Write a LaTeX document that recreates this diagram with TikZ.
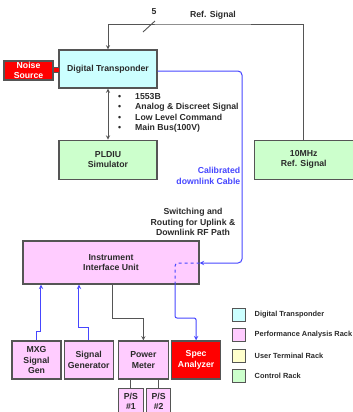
\documentclass[tikz,border=0pt]{standalone}
\usepackage{fontspec}
\setmainfont{Liberation Sans}
\usepackage{tikz}
\usepackage{xcolor}
\usetikzlibrary{positioning}

\definecolor{dtcyan}{HTML}{CCFFFF}
\definecolor{parpink}{HTML}{FFCCFF}
\definecolor{utyellow}{HTML}{FFFFCC}
\definecolor{crgreen}{HTML}{CCFFCC}
\definecolor{sigred}{HTML}{FF0000}
\definecolor{cableblue}{HTML}{4646FF}
\definecolor{boxgray}{HTML}{555555}
\definecolor{textgray}{HTML}{2A2A2A}

\begin{document}
\begin{tikzpicture}[
    x=1bp, y=-1bp,
    font=\fontsize{8.7bp}{10.3bp}\selectfont\bfseries,
    box/.style={draw=boxgray, line width=1.2bp, rectangle, align=center, text=textgray, inner sep=0pt},
    redbox/.style={box, fill=sigred, text=white},
    wire/.style={draw=boxgray, line width=0.9bp},
    arrow/.style={wire, ->, >=stealth},
    dblarrow/.style={wire, <->, >=stealth},
    cable/.style={draw=cableblue, line width=1bp},
    cablearrow/.style={cable, -{stealth}},
    legbox/.style={draw=boxgray, line width=1bp, minimum width=13bp, minimum height=13bp, inner sep=0pt},
    legtext/.style={font=\fontsize{7.4bp}{9bp}\selectfont\bfseries, text=textgray, inner sep=0pt, anchor=west}
]
    \useasboundingbox (0,0) rectangle (353,412);

    % Place nodes
    \node[box, fill=dtcyan, minimum width=98bp, minimum height=38bp] (dt) at (108,69) {Digital Transponder};
    \node[redbox, minimum width=49bp, minimum height=19bp] (noise) at (28.5,70.5) {Noise\\[-1bp]Source};
    \node[box, fill=sigred, line width=0.8bp, minimum width=6bp, minimum height=5bp] (conn) at (56,69.5) {};
    \node[box, fill=crgreen, minimum width=98bp, minimum height=39bp, below=51bp of dt] (pldiu) {PLDIU\\Simulator};
    \node[box, fill=crgreen, minimum width=99bp, minimum height=39bp, right=96bp of pldiu] (tenmhz) {10MHz\\Ref. Signal};
    \node[box, fill=parpink, minimum width=176bp, minimum height=43bp] (iiu) at (111,262.5) {Instrument\\Interface Unit};

    \node[box, fill=parpink, minimum width=49bp, minimum height=38bp] (mxg) at (36.5,360) {MXG\\Signal\\Gen};
    \node[box, fill=parpink, minimum width=49bp, minimum height=38bp, right=2bp of mxg] (siggen) {Signal\\Generator};
    \node[box, fill=parpink, minimum width=50bp, minimum height=38bp, right=4bp of siggen] (pm) {Power\\Meter};
    \node[redbox, minimum width=49bp, minimum height=38bp, right=2bp of pm] (spec) {Spec\\Analyzer};
    \node[box, fill=parpink, minimum width=25bp, minimum height=26bp, anchor=north west] (ps1) at ([yshift=-8bp]pm.south west) {P/S\\\#1};
    \node[box, fill=parpink, minimum width=24bp, minimum height=26bp, right=2bp of ps1] (ps2) {P/S\\\#2};

    % Labels
    \node[text=textgray, inner sep=0pt] (reflabel) at (213,15) {Ref. Signal};
    \node[text=textgray, inner sep=0pt] (lanes) at (154,12) {5};
    \node[text=textgray, inner sep=0pt, align=left, anchor=west] (buslist) at (118,113)
        {\makebox[17bp][l]{\textbullet}1553B\\
         \makebox[17bp][l]{\textbullet}Analog \& Discreet Signal\\
         \makebox[17bp][l]{\textbullet}Low Level Command\\
         \makebox[17bp][l]{\textbullet}Main Bus(100V)};
    \node[text=cableblue, inner sep=0pt, align=right, anchor=east] (cablelabel) at (240.5,176) {Calibrated\\downlink Cable};
    \node[text=textgray, inner sep=0pt, align=center] (switchlabel) at (193,222) {Switching and\\Routing for Uplink \&\\Downlink RF Path};

    % Add connections
    \coordinate (reftop) at (200,24);
    \draw[arrow] (tenmhz.north) |- (reftop) -| (dt.north);
    \draw[wire] (143,32) -- (155,21);
    \draw[dblarrow] (dt) -- (pldiu);

    \coordinate (cablebend) at (242,263);
    \coordinate (sw) at (175,263);
    \coordinate (jog) at (0,318);
    \draw[cablearrow, rounded corners=4bp] ([yshift=-2bp]dt.east) -| (cablebend) -- (iiu.east |- cablebend);
    \draw[cable, dashed, rounded corners=3bp] (iiu.east |- sw) -- (sw) -- (sw |- iiu.south);
    \draw[cablearrow, rounded corners=2bp] (sw |- iiu.south) -- (sw |- jog) -| (spec.north);

    \draw[cablearrow] (mxg.north) -- ++(0,-9) -| ([xshift=-70bp]iiu.south);
    \draw[cablearrow] (siggen.north) -- ++(0,-13) -| ([xshift=-32bp]iiu.south);
    \draw[arrow] ([xshift=1bp]iiu.south) -- ([xshift=1bp]iiu.south |- jog) -| (pm.north);
    \draw[wire] (ps1.north) -- (ps1.north |- pm.south);
    \draw[wire] (ps2.north) -- (ps2.north |- pm.south);

    % Legend
    \foreach \col/\txt/\y in {dtcyan/Digital Transponder/315, parpink/Performance Analysis Rack/334.5,
                              utyellow/User Terminal Rack/356, crgreen/Control Rack/375.5} {
        \node[legbox, fill=\col] (leg-\col) at (238.5,\y) {};
        \node[legtext, right=9bp of leg-\col] {\txt};
    }
\end{tikzpicture}
\end{document}
